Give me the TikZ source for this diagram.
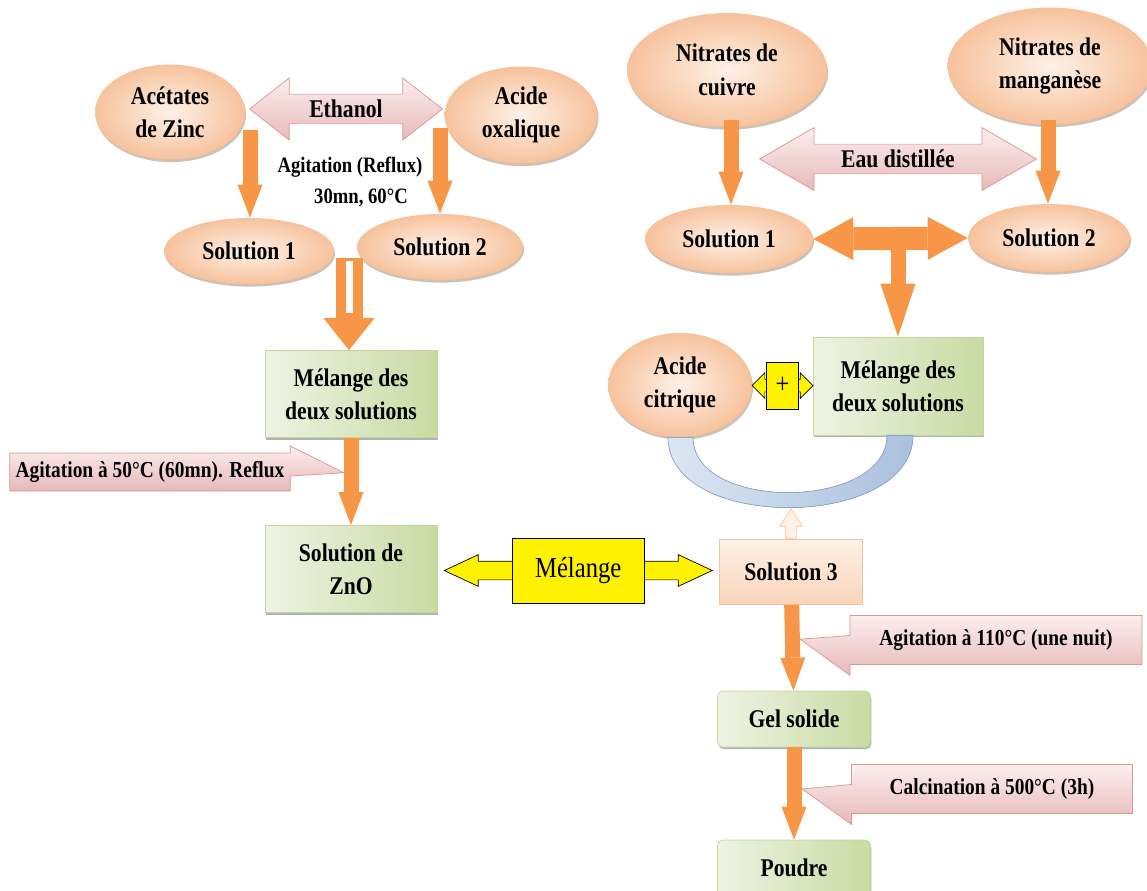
\documentclass[tikz,border=0pt]{standalone}
\usepackage{fontspec}
\setmainfont[FakeStretch=0.85]{Liberation Serif}
\usetikzlibrary{arrows.meta,shapes.geometric,shapes.arrows,shapes.callouts,shadows,calc}

\definecolor{flowor}{HTML}{F79646}
\definecolor{peachin}{HTML}{FEF1E7}
\definecolor{peachout}{HTML}{F7C29C}
\definecolor{greenlt}{HTML}{EEF3E3}
\definecolor{greendk}{HTML}{C9DBA3}
\definecolor{greenln}{HTML}{C3D69B}
\definecolor{pinklt}{HTML}{FCEEEE}
\definecolor{pinkdk}{HTML}{E6B9B8}
\definecolor{pinkln}{HTML}{D99694}
\definecolor{bluelt}{HTML}{DCE6F2}
\definecolor{bluedk}{HTML}{A9C0DE}
\definecolor{blueln}{HTML}{8EA9CF}

\begin{document}
\begin{tikzpicture}
      [ x = 0.02cm, y = -0.02cm
      , every node/.style =
        { font = \bfseries\fontsize{14.5}{19}\selectfont, align = center }
      , source/.style =
        { ellipse, inner color = peachin, outer color = peachout, inner sep = 0pt
        , drop shadow = {shadow xshift = .6pt, shadow yshift = -1.5pt, fill = brown!60!black, opacity = .35} }
      , solvent/.style =
        { double arrow, top color = pinklt, bottom color = pinkdk, draw = pinkln
        , inner xsep = 0pt, inner ysep = 0.09cm }
      , stage/.style =
        { rectangle, left color = greenlt, right color = greendk, draw = greenln
        , drop shadow = {shadow xshift = .5pt, shadow yshift = -1.2pt, fill = black, opacity = .3} }
      , mixture/.style =
        { rectangle, top color = peachin, bottom color = peachout!70, draw = peachout }
      , remark/.style =
        { rectangle callout, top color = pinklt, bottom color = pinkdk, draw = pinkln
        , font = \bfseries\fontsize{13}{15}\selectfont }
      , flow/.style =
        { draw = flowor, line width = 0.3cm
        , -{Triangle[width = 0.5cm, length = 0.66cm, line width = 0pt]} }
      , wideflow/.style =
        { draw = flowor, line width = 0.46cm
        , {Triangle[width = 0.86cm, length = 0.8cm, line width = 0pt]}-{Triangle[width = 0.86cm, length = 0.8cm, line width = 0pt]} }
      , stemflow/.style =
        { draw = flowor, line width = 0.3cm
        , -{Triangle[width = 0.7cm, length = 1.06cm, line width = 0pt]} }
      , hollowflow/.style =
        { draw = flowor, line width = 0.54cm
        , -{Triangle[width = 1.02cm, length = 0.64cm, line width = 0pt]} }
      , mixarrow/.style =
        { double arrow, fill = yellow, draw = black, inner xsep = 0pt }
      , mixbox/.style =
        { rectangle, fill = yellow, draw = black
        , font = \mdseries\fontsize{16.5}{19}\selectfont }
      , backarrow/.style =
        { single arrow, fill = peachin, draw = flowor!55, inner xsep = 0pt, inner ysep = 0.1cm
        , rotate = 90, single arrow head extend = 0.12cm
        , single arrow tip angle = 66 }
      , ring/.style =
        { left color = bluelt, right color = bluedk, draw = blueln }
      ]
      \useasboundingbox (0,0) rectangle (1147,890);

      \node [source, minimum width = 3cm, minimum height = 1.9cm] (zinc) at (170,112) {Acétates\\de Zinc};
      \node [source, minimum width = 3.06cm, minimum height = 1.94cm] (oxal) at (521,115) {Acide\\oxalique};
      \node [solvent, minimum height = 3.86cm, minimum width = 1.24cm
            , double arrow head extend = 0.3cm, double arrow tip angle = 76] (eth) at (346,109) {Ethanol};
      \node [font = \bfseries\fontsize{12.5}{17.6}\selectfont] (agit) at (350,182) {Agitation (Reflux)\\\quad 30mn, 60°C};
      \node [source, minimum width = 3.4cm, minimum height = 1.32cm] (sol1) at (249,251) {Solution 1};
      \node [source, minimum width = 3.32cm, minimum height = 1.32cm] (sol2) at (440,247) {Solution 2};
      \node [stage, minimum width = 3.44cm, minimum height = 1.74cm] (mix1) at (351,394) {Mélange des\\deux solutions};
      \node [stage, minimum width = 3.44cm, minimum height = 1.74cm] (zno) at (351,569) {Solution de\\ZnO};

      \node [source, minimum width = 4cm, minimum height = 2.28cm] (cuiv) at (727,70) {Nitrates de\\cuivre};
      \node [source, minimum width = 4.1cm, minimum height = 2.34cm] (mang) at (1050,66) {Nitrates de\\manganèse};
      \node [solvent, minimum height = 5.54cm, minimum width = 1.26cm
            , double arrow head extend = 0.31cm, double arrow tip angle = 60] (eau) at (898,159) {Eau distillée};
      \node [source, minimum width = 3.36cm, minimum height = 1.36cm] (sol1r) at (729,239) {Solution 1};
      \node [source, minimum width = 3.24cm, minimum height = 1.36cm] (sol2r) at (1049,238) {Solution 2};
      \node [stage, minimum width = 3.4cm, minimum height = 1.96cm] (mix2) at (898,386) {Mélange des\\deux solutions};
      \node [source, minimum width = 2.88cm, minimum height = 2.08cm] (citr) at (680,385) {Acide\\citrique};
      \node [mixture, minimum width = 2.86cm, minimum height = 1.3cm] (sol3) at (791,572) {Solution 3};
      \node [stage, rounded corners = 3pt, minimum width = 3.06cm, minimum height = 1.12cm] (gel) at (794,719) {Gel solide};
      \node [stage, rounded corners = 3pt, minimum width = 3.06cm, minimum height = 1.12cm] (poudre) at (794,868) {Poudre};

      \coordinate (z1) at (250,130);
      \coordinate (o1) at (440,128);
      \coordinate (j1) at (349,258);
      \coordinate (c1) at (731,120);
      \coordinate (m1) at (1048,120);
      \draw [flow] (z1) -- (z1 |- sol1.north);
      \draw [flow] (o1) -- (o1 |- sol2.north);
      \draw [hollowflow] (j1) -- (j1 |- mix1.north);
      \draw [white, line width = 0.14cm] (j1) ++(0,3) -- ++(0,52);
      \draw [flow] (mix1) -- (zno);
      \draw [flow] (c1) -- (c1 |- sol1r.north);
      \draw [flow] (m1) -- (m1 |- sol2r.north);
      \draw [wideflow] (sol1r.east) -- (sol2r.west);
      \draw [stemflow] (mix2.north |- sol2r.west) -- (mix2.north);
      \draw [flow] (sol3) -- (gel);
      \draw [flow] (gel) -- (poudre);

      \filldraw [ring] ($(citr.south)+(-12,0)$) .. controls ($(citr.south)+(-12,95)$) and ($(mix2.south)+(15,95)$) .. ($(mix2.south)+(15,0)$)
        -- ($(mix2.south)+(-11,0)$) .. controls ($(mix2.south)+(-11,75)$) and ($(citr.south)+(13,75)$) .. ($(citr.south)+(13,0)$) -- cycle;
      \node [backarrow, anchor = tail, minimum height = 0.6cm, minimum width = 0.44cm] (back) at (sol3.north) {};

      \node [mixarrow, minimum height = 5.36cm, minimum width = 0.62cm, inner ysep = 0.18cm
            , double arrow head extend = 0.13cm, double arrow tip angle = 50] (mixar) at ($(zno.east)!.5!(sol3.west)$) {};
      \node [mixbox, minimum width = 2.64cm, minimum height = 1.3cm] (mix) at (mixar) {Mélange};
      \node [mixarrow, minimum height = 1.22cm, minimum width = 0.5cm, inner ysep = 0.12cm
            , double arrow head extend = 0.13cm] (plusar) at ($(citr.east)!.5!(mix2.west)$) {};
      \node [mixbox, minimum width = 0.64cm, minimum height = 0.94cm] (plus) at (plusar) {+};

      \node [remark, minimum width = 5.6cm, minimum height = 0.76cm, callout pointer width = 0.6cm
            , callout absolute pointer = {($(mix1.south)!.4!(zno.north)+(-7,0)$)}] (rem1) at (150,472) {Agitation à 50°C (60mn). Reflux};
      \node [remark, minimum width = 5.84cm, minimum height = 0.98cm, callout pointer width = 0.8cm
            , callout absolute pointer = {($(sol3.south)!.4!(gel.north)+(8,0)$)}] (rem2) at (996,640) {Agitation à 110°C (une nuit)};
      \node [remark, minimum width = 5.62cm, minimum height = 0.98cm, callout pointer width = 0.8cm
            , callout absolute pointer = {($(gel.south)!.45!(poudre.north)+(8,0)$)}] (rem3) at (992,789) {Calcination à 500°C (3h)};
    \end{tikzpicture}
\end{document}
